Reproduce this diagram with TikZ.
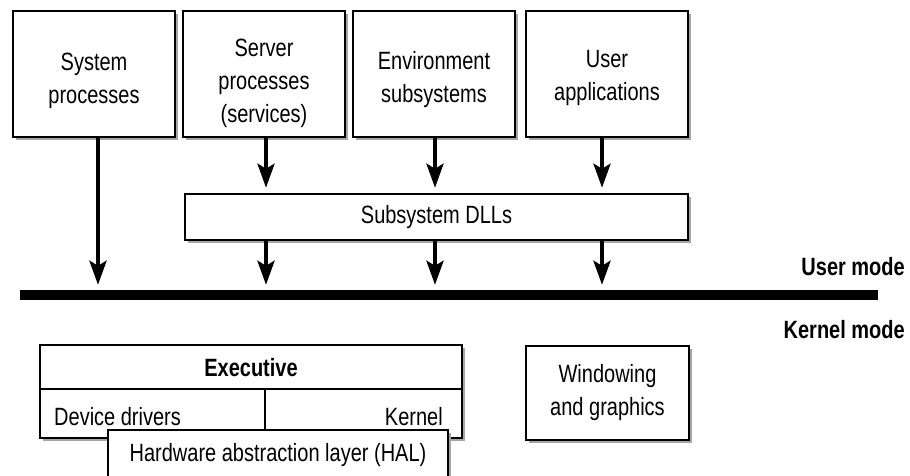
\documentclass[tikz,border=0pt]{standalone}
\usepackage{fontspec}
\setmainfont{Liberation Sans}[FakeStretch=0.8]
\usetikzlibrary{arrows.meta,shadows}
\begin{document}
\begin{tikzpicture}[x=1pt,y=-1pt,
  box/.style={draw,line width=2.5pt,fill=white,align=center,inner sep=0pt,
    font=\fontsize{25}{33}\selectfont,
    drop shadow={shadow xshift=3pt,shadow yshift=-3pt,fill=black!35,opacity=1}},
  lbl/.style={inner sep=0pt,align=center,font=\fontsize{25}{33}\selectfont},
  blbl/.style={inner sep=0pt,font=\fontsize{25}{33}\selectfont\bfseries},
  arr/.style={line width=4pt,shorten >=5pt,-{Stealth[width=17pt,length=24pt,inset=5pt]}},
  divider/.style={line width=2pt}]
\useasboundingbox (0,0) rectangle (910,476);
\clip (0,0) rectangle (910,476);

% top boxes
\node[box,minimum width=162pt,minimum height=126pt] (sys) at (94,74) {};
\node[box,minimum width=162pt,minimum height=126pt] (srv) at (264,74) {};
\node[box,minimum width=162pt,minimum height=126pt] (env) at (434,74) {};
\node[box,minimum width=162pt,minimum height=126pt] (usr) at (607,74) {};
\node[lbl] (sysT) at ([yshift=-7pt]sys.center) {System\\processes};
\node[lbl] (srvT) at ([yshift=-9pt]srv.center) {Server\\processes\\(services)};
\node[lbl] (envT) at ([yshift=-6pt]env.center) {Environment\\subsystems};
\node[lbl] (usrT) at ([yshift=-4pt]usr.center) {User\\applications};

% subsystem DLLs
\node[box,minimum width=503pt,minimum height=46pt] (dll) at (436.5,217) {Subsystem DLLs};

% user/kernel bar
\node[fill=black,inner sep=0pt,minimum width=858pt,minimum height=10pt] (bar) at (449,295) {};
\node[blbl,anchor=base east] (um) at (905,275) {User mode};
\node[blbl,anchor=base east] (km) at (905,338) {Kernel mode};

% arrow columns
\coordinate (a1) at ([xshift=4pt]sys.south);
\coordinate (a2) at ([xshift=2pt]srv.south);
\coordinate (a3) at ([xshift=1pt]env.south);
\coordinate (a4) at ([xshift=-5pt]usr.south);

\draw[arr] (a1) -- (a1 |- bar.north);
\draw[arr] (a2) -- (a2 |- dll.north);
\draw[arr] (a3) -- (a3 |- dll.north);
\draw[arr] (a4) -- (a4 |- dll.north);
\draw[arr] (a2 |- dll.south) -- (a2 |- bar.north);
\draw[arr] (a3 |- dll.south) -- (a3 |- bar.north);
\draw[arr] (a4 |- dll.south) -- (a4 |- bar.north);

% executive block
\node[box,minimum width=422pt,minimum height=93pt] (exec) at (251,391.5) {};
\draw[divider] ([yshift=-45pt]exec.north west) -- ([yshift=-45pt]exec.north east);
\draw[divider] ([xshift=226pt,yshift=-45pt]exec.north west) -- ([xshift=226pt]exec.south west);
\node[blbl] (execT) at (251,368) {Executive};
\node[lbl,anchor=base west] (dd) at (54,425) {Device drivers};
\node[lbl,anchor=base east] (kern) at (443,425) {Kernel};

% HAL
\node[box,minimum width=340pt,minimum height=50pt] (hal) at (278,455) {Hardware abstraction layer (HAL)};

% windowing
\node[box,minimum width=163pt,minimum height=94pt] (win) at (607.5,393) {Windowing\\and graphics};
\end{tikzpicture}
\end{document}
